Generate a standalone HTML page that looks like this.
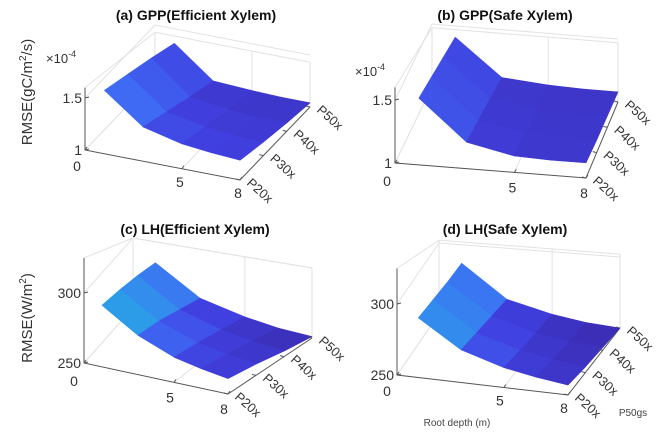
<!DOCTYPE html>
<html><head><meta charset="utf-8">
<style>
html,body{margin:0;padding:0;background:#fff;}
svg{display:block;font-family:"Liberation Sans",Arial,sans-serif;}
</style></head>
<body>
<svg id="fig" width="669" height="441" viewBox="0 0 669 441" xmlns="http://www.w3.org/2000/svg"></svg>
<script>
// ---- data ----
const depths = [1, 3, 5, 6.5, 8];
const pCategories = ["P20x", "P30x", "P40x", "P50x"];
const depthTicks = [0, 5, 8];
// rows = P20x..P50x, columns = depths
const gppEfficient = [
  [1.61, 1.33, 1.24, 1.21, 1.19],
  [1.53, 1.24, 1.17, 1.14, 1.13],
  [1.45, 1.15, 1.10, 1.08, 1.08],
  [1.36, 1.07, 1.05, 1.04, 1.04]
];
const gppSafe = [
  [1.53, 1.21, 1.13, 1.12, 1.12],
  [1.49, 1.18, 1.12, 1.11, 1.10],
  [1.45, 1.15, 1.10, 1.09, 1.09],
  [1.41, 1.12, 1.09, 1.08, 1.08]
];
const lhEfficient = [
  [294, 278, 268, 264, 261],
  [292, 275, 265, 261, 258],
  [289, 270, 261, 257, 254],
  [285, 265, 257, 253, 251]
];
const lhSafe = [
  [292, 273, 264, 260, 257],
  [290, 270, 261, 257, 254],
  [288, 267, 258, 254, 252],
  [287, 264, 256, 252, 250]
];
const gppZTicks = ["1", "1.5"];
const lhZTicks = ["250", "300"];

const NS = "http://www.w3.org/2000/svg";
const svg = document.getElementById("fig");
function mk(tag, attrs, parent, text) {
  const e = document.createElementNS(NS, tag);
  for (const k in attrs) e.setAttribute(k, attrs[k]);
  if (text !== undefined) e.textContent = text;
  (parent || svg).appendChild(e);
  return e;
}
const stops = [[0, [59, 43, 176]], [0.3, [64, 64, 224]], [0.55, [63, 108, 245]], [0.8, [43, 158, 232]], [1, [31, 192, 200]]];
function cmap(t) {
  t = Math.max(0, Math.min(1, t));
  for (let i = 1; i < stops.length; i++) {
    if (t <= stops[i][0]) {
      const a = stops[i - 1], b = stops[i], f = (t - a[0]) / (b[0] - a[0]);
      const c = a[1].map((v, j) => Math.round(v + (b[1][j] - v) * f));
      return "rgb(" + c.join(",") + ")";
    }
  }
  return "rgb(31,192,200)";
}

function panel(cfg) {
  const g = mk("g", {});
  
  
  function base(d, p) {
    const u = d / 8, v = p / 3;
    const x = (1 - u) * (1 - v) * cfg.FL[0] + u * (1 - v) * cfg.FR[0] + (1 - u) * v * cfg.BL[0] + u * v * cfg.BR[0];
    const y = (1 - u) * (1 - v) * cfg.FL[1] + u * (1 - v) * cfg.FR[1] + (1 - u) * v * cfg.BL[1] + u * v * cfg.BR[1];
    return [x, y];
  }
  function proj(d, p, z) {
    const b = base(d, p);
    return [b[0], b[1] - (z - cfg.zmin) * cfg.zs];
  }
  const zTop = cfg.zmin + cfg.zrange;
  const lg = "#e2e2e2";
  const BLt = proj(0, 3, zTop), BRt = proj(8, 3, zTop), FLt = proj(0, 0, cfg.zmin + cfg.zfront);
  const BLb = proj(0, 3, cfg.zmin), BRb = proj(8, 3, cfg.zmin);
  [[BLb, BLt], [BRb, BRt], [BLt, BRt], [FLt, BLt]].forEach(s => mk("line", {x1: s[0][0], y1: s[0][1], x2: s[1][0], y2: s[1][1], stroke: lg, "stroke-width": 1}, g));
  mk("line", {x1: BLb[0], y1: BLb[1], x2: BRb[0], y2: BRb[1], stroke: lg}, g);
  mk("line", {x1: cfg.FL[0], y1: cfg.FL[1], x2: BLb[0], y2: BLb[1], stroke: lg}, g);
  const m5a = proj(5, 3, cfg.zmin), m5b = proj(5, 3, zTop), m5c = proj(5, 0, cfg.zmin);
  mk("line", {x1: m5a[0], y1: m5a[1], x2: m5b[0], y2: m5b[1], stroke: lg}, g);
  mk("line", {x1: m5a[0], y1: m5a[1], x2: m5c[0], y2: m5c[1], stroke: lg}, g);
  cfg.zt.forEach(z => {
    const a = proj(0, 0, z), b = proj(0, 3, z), c = proj(8, 3, z);
    mk("polyline", {points: a.join(",") + " " + b.join(",") + " " + c.join(","), fill: "none", stroke: lg}, g);
  });
  const ax = mk("path", {d: `M${FLt[0]},${FLt[1]} L${cfg.FL[0]},${cfg.FL[1]} L${cfg.FR[0]},${cfg.FR[1]} L${cfg.BR[0]},${cfg.BR[1]}`, fill: "none", stroke: "#555", "stroke-width": 1}, g);
  
  
  const data = cfg.data;
  const lo = Math.min(...data.flat()), hi = Math.max(...data.flat());
  for (let p = 2; p >= 0; p--) {
    for (let i = 0; i < depths.length - 1; i++) {
      const pts = [proj(depths[i], p, data[p][i]), proj(depths[i + 1], p, data[p][i + 1]), proj(depths[i + 1], p + 1, data[p + 1][i + 1]), proj(depths[i], p + 1, data[p + 1][i])];
      const avg = (data[p][i] + data[p][i + 1] + data[p + 1][i] + data[p + 1][i + 1]) / 4;
      const col = cmap(cfg.cmin + (avg - lo) / (hi - lo) * (cfg.cmax - cfg.cmin));
      const f = mk("polygon", {points: pts.map(q => q.join(",")).join(" "), fill: col, stroke: col, "stroke-width": 0.6, "stroke-linejoin": "round"}, g);
      
      
    }
  }
  cfg.zt.forEach((z, k) => {
    const a = proj(0, 0, z);
    mk("line", {x1: a[0], y1: a[1], x2: a[0] + 4, y2: a[1] - 1, stroke: "#555"}, g);
    const t = mk("text", {x: a[0] - 3, y: a[1] + 5, "text-anchor": "end", "font-size": 14, fill: "#333"}, g, cfg.ztl[k]);
    
    
  });
  depthTicks.forEach(d => {
    const a = base(d, 0);
    mk("line", {x1: a[0], y1: a[1], x2: a[0] + 2, y2: a[1] - 3, stroke: "#555"}, g);
    const t = mk("text", {x: a[0] + cfg.dOff[0] - (d === 0 ? 6 : 0), y: a[1] + cfg.dOff[1] + (d === 0 ? 3 : 0), "text-anchor": "middle", "font-size": 14, fill: "#333"}, g, String(d));
    
    
  });
  pCategories.forEach((c, p) => {
    const a = base(8, p);
    mk("line", {x1: a[0], y1: a[1], x2: a[0] - 4, y2: a[1] - 1, stroke: "#555"}, g);
    const t = mk("text", {x: a[0] + 6, y: a[1] + 4, "font-size": 13, fill: "#333", transform: `rotate(42 ${a[0] + 6} ${a[1] + 4})`}, g, c);
    
    
  });
  const tt = mk("text", {x: cfg.title[1], y: cfg.title[2], "text-anchor": "middle", "font-size": 14, "font-weight": "bold", fill: "#111"}, g, cfg.title[0]);
  
  
  if (cfg.exp) {
    const e = mk("text", {x: cfg.exp[0], y: cfg.exp[1], "font-size": 13, fill: "#333"}, g);
    
    
    e.appendChild(document.createTextNode("\u00d710"));
    mk("tspan", {dy: -6, "font-size": 9}, e, "-4");
  }
}

panel({name: "panel-a-gpp-efficient", data: gppEfficient, FL: [85, 150], FR: [240, 180], BL: [155, 77], BR: [310, 107], zmin: 1, zs: 104, zrange: 0.43, zfront: 0.6, zt: [1, 1.5], ztl: gppZTicks, cmin: 0.15, cmax: 0.72, dOff: [-2, 18], title: ["(a) GPP(Efficient Xylem)", 196, 20], exp: [46, 63]});
panel({name: "panel-b-gpp-safe", data: gppSafe, FL: [395, 163], FR: [586, 178], BL: [432, 87], BR: [618, 102], zmin: 1, zs: 126, zrange: 0.47, zfront: 0.6, zt: [1, 1.5], ztl: gppZTicks, cmin: 0.15, cmax: 0.58, dOff: [-2, 20], title: ["(b) GPP(Safe Xylem)", 505, 20], exp: [355, 76]});
panel({name: "panel-c-lh-efficient", data: lhEfficient, FL: [84, 363], FR: [228, 394], BL: [133, 308], BR: [312, 338], zmin: 250, zs: 1.4, zrange: 50, zfront: 75, zt: [250, 300], ztl: lhZTicks, cmin: 0.02, cmax: 1.0, dOff: [-4, 20], title: ["(c) LH(Efficient Xylem)", 195, 234], exp: null});
panel({name: "panel-d-lh-safe", data: lhSafe, FL: [397, 375], FR: [568, 395], BL: [439, 314], BR: [620, 328], zmin: 250, zs: 1.42, zrange: 52, zfront: 75, zt: [250, 300], ztl: lhZTicks, cmin: 0.0, cmax: 0.95, dOff: [-4, 18], title: ["(d) LH(Safe Xylem)", 505, 234], exp: null});

const y1 = mk("text", {x: 32, y: 92, "text-anchor": "middle", "font-size": 15, fill: "#333", transform: "rotate(-90 32 92)"});


y1.appendChild(document.createTextNode("RMSE(gC/m"));
mk("tspan", {dy: -6, "font-size": 10}, y1, "2");
mk("tspan", {dy: 6}, y1, "/s)");
const y2 = mk("text", {x: 32, y: 318, "text-anchor": "middle", "font-size": 15, fill: "#333", transform: "rotate(-90 32 318)"});


y2.appendChild(document.createTextNode("RMSE(W/m"));
mk("tspan", {dy: -6, "font-size": 10}, y2, "2");
mk("tspan", {dy: 6}, y2, ")");
const xt = mk("text", {x: 457, y: 426, "text-anchor": "middle", "font-size": 10, fill: "#444"}, svg, "Root depth (m)");


const pt = mk("text", {x: 633, y: 416, "text-anchor": "middle", "font-size": 10, fill: "#444"}, svg, "P50gs");


</script>
</body></html>
